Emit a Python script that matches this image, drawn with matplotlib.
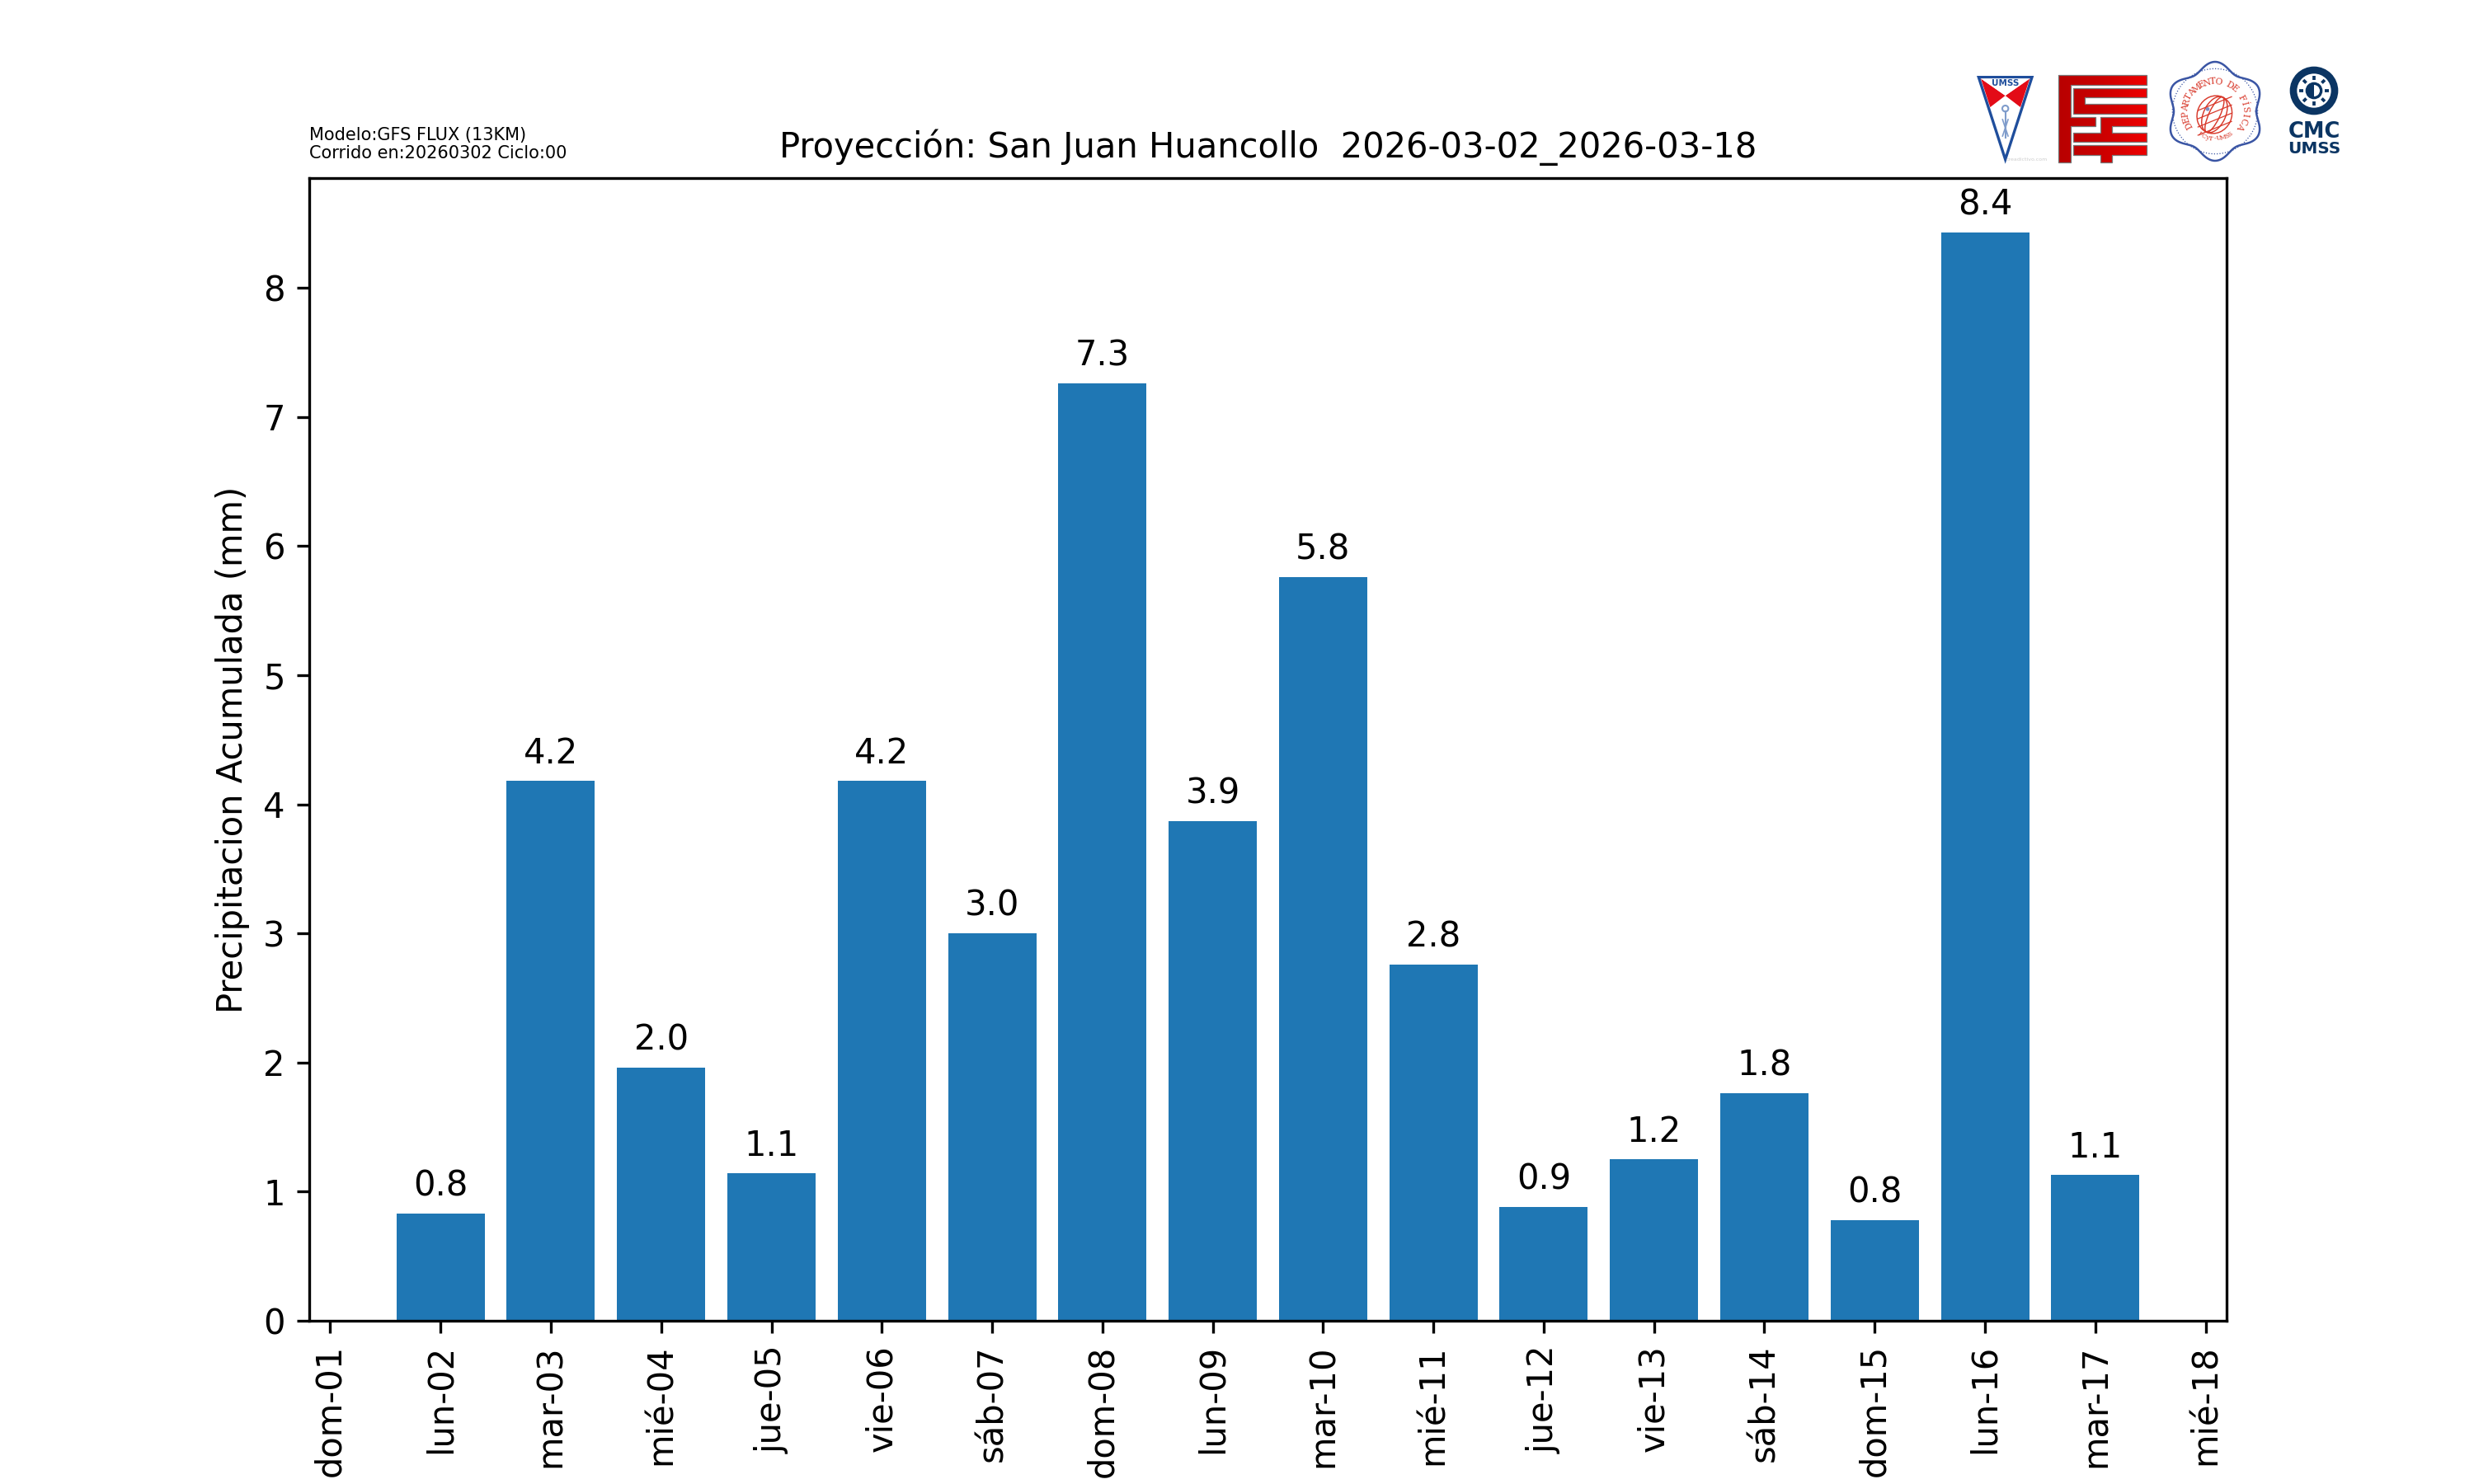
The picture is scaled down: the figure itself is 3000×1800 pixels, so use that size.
import numpy as np
import pandas as pd
import matplotlib
matplotlib.use("Agg")
import matplotlib.pyplot as plt
from matplotlib.patches import Polygon, Circle, Ellipse, PathPatch, Wedge
from matplotlib.path import Path

# datos de precipitacion
fechas = pd.date_range("2026-03-02", "2026-03-17", freq="D")
precip = [0.83, 4.18, 1.96, 1.14, 4.18, 3.00, 7.26, 3.87, 5.76, 2.76, 0.88, 1.25, 1.76, 0.78, 8.43, 1.13]
fechas_ticks = pd.date_range("2026-03-01", "2026-03-18", freq="D")
etiquetas = ["dom-01", "lun-02", "mar-03", "mié-04", "jue-05", "vie-06", "sáb-07", "dom-08", "lun-09",
             "mar-10", "mié-11", "jue-12", "vie-13", "sáb-14", "dom-15", "lun-16", "mar-17", "mié-18"]

titulo = "Proyección: San Juan Huancollo  2026-03-02_2026-03-18"
info = "Modelo:GFS FLUX (13KM)\nCorrido en:20260302 Ciclo:00"

fig, ax = plt.subplots(figsize=(10, 6))
barras = ax.bar(fechas, precip, color="#1f77b4")
ax.bar_label(barras, fmt="%.1f", padding=3)
ax.set_xticks(fechas_ticks)
ax.set_xticklabels(etiquetas, rotation=90)
ax.set_ylabel("Precipitacion Acumulada (mm)")
ax.set_title(titulo, fontsize=10)
ax.text(0, 1.0145, info, transform=ax.transAxes, fontsize=5, va="bottom", ha="left", linespacing=1.1)

# logos, unidades = 1/3 de pixel dentro de la franja superior derecha
logo = fig.add_axes([2350 / 3000, 1 - 230 / 1800, 550 / 3000, 180 / 1800])
logo.axis("off")
sx = 1.053

azul = "#1f4e9c"
rojo = "#e30b17"
# escudo UMSS
xu = 245
logo.add_patch(Polygon([(xu - 97, 131), (xu + 97, 131), (xu, 430)], fc="white", ec=azul, lw=0.8))
logo.add_patch(Polygon([(xu - 89, 136), (xu, 198), (xu - 55, 240)], fc=rojo, ec="none"))
logo.add_patch(Polygon([(xu + 89, 136), (xu, 198), (xu + 55, 240)], fc=rojo, ec="none"))
logo.add_patch(Polygon([(xu - 89, 136), (xu + 89, 136), (xu, 198)], fc="white", ec="none"))
logo.text(xu, 153, "UMSS", color=azul, fontsize=2.5, fontweight="bold", ha="center", va="center")
logo.add_patch(Circle((xu, 245), 11, fc="none", ec="#7f9ccb", lw=0.5))
logo.plot([xu, xu], [255, 350], color="#7f9ccb", lw=0.5)
logo.plot([xu - 10, xu + 10], [285, 345], color="#7f9ccb", lw=0.4)
logo.plot([xu + 10, xu - 10], [285, 345], color="#7f9ccb", lw=0.4)
logo.text(xu + 77, 430, "creadictivo.com", color="#cccccc", fontsize=1.5, ha="center", va="center")

# logo rojo con degradado
piezas = [
    [(417, 123), (722, 123), (722, 158), (458, 158), (458, 275), (545, 275), (545, 310), (458, 310), (458, 440), (417, 440)],
    [(468, 170), (722, 170), (722, 205), (508, 205), (508, 228), (722, 228), (722, 263), (468, 263)],
    [(560, 275), (722, 275), (722, 310), (600, 310), (600, 332), (722, 332), (722, 367), (468, 367), (468, 332), (560, 332)],
    [(468, 378), (722, 378), (722, 415), (600, 415), (600, 440), (560, 440), (560, 415), (468, 415)],
]
verts, codes = [], []
for p in piezas:
    p = [(x * sx, y) for x, y in p]
    verts += p + [p[0]]
    codes += [Path.MOVETO] + [Path.LINETO] * (len(p) - 1) + [Path.CLOSEPOLY]
trazo = Path(verts, codes)
grad = logo.imshow(np.linspace(0, 1, 64).reshape(1, -1), extent=(417 * sx, 722 * sx, 440, 123), aspect="auto",
                   cmap=matplotlib.colors.LinearSegmentedColormap.from_list("r", ["#b80000", "#cc0000", "#ee0000"]))
grad.set_clip_path(PathPatch(trazo, transform=logo.transData))
logo.add_patch(PathPatch(trazo, fc="none", ec="#777777", lw=0.3))

# sello departamento de fisica
cx, cy = 1008, 255
t = np.linspace(0, 2 * np.pi, 500)
r = 165 + 15 * np.cos(6 * (t + np.pi / 2))
logo.plot(cx + r * np.cos(t), cy + r * np.sin(t), color="#3a55a4", lw=0.6)
logo.add_patch(Circle((cx, cy), 155, fc="none", ec="#3a55a4", lw=0.3, ls=":"))
rojo2 = "#d8392b"
for w in (40, 80, 125):
    logo.add_patch(Ellipse((cx - 2, cy + 12), w, 140, angle=25, fc="none", ec=rojo2, lw=0.35))
for dy in (-40, -10, 20, 50):
    logo.plot([cx - 62, cx + 60], [cy + 12 + dy + 25, cy + 12 + dy - 25], color=rojo2, lw=0.3)
logo.add_patch(Circle((cx - 27, cy - 8), 7, fc="#7f8fc4", ec="none"))
letras = "DEPARTAMENTO DE FÍSICA"
for ch, a in zip(letras, np.linspace(-208, 30, len(letras))):
    a_r = np.deg2rad(a)
    logo.text(cx + 108 * np.cos(a_r), cy + 108 * np.sin(a_r), ch, color=rojo2, fontsize=2.6, family="DejaVu Serif",
              rotation=-a - 90, ha="center", va="center")
for ch, a in zip("FCyT-UMSS", np.linspace(124, 56, 9)):
    a_r = np.deg2rad(a)
    logo.text(cx + 100 * np.cos(a_r), cy + 100 * np.sin(a_r), ch, color=rojo2, fontsize=1.8, family="DejaVu Serif",
              rotation=90 - a, ha="center", va="center")

# logo CMC
navy = "#0b3563"
xc = 1368
logo.add_patch(Circle((xc, 180), 88, fc=navy, ec="none"))
logo.add_patch(Circle((xc, 180), 62, fc="white", ec="none"))
for a in np.arange(0, 360, 45):
    a_r = np.deg2rad(a)
    logo.plot([xc + 40 * np.cos(a_r), xc + 55 * np.cos(a_r)], [180 + 40 * np.sin(a_r), 180 + 55 * np.sin(a_r)],
              color=navy, lw=0.9, solid_capstyle="butt")
logo.add_patch(Circle((xc, 180), 26, fc="white", ec=navy, lw=0.8))
logo.add_patch(Wedge((xc, 180), 26, 90, 270, fc=navy, ec="none"))
logo.text(xc, 320, "CMC", color=navy, fontsize=6.2, fontweight="bold", ha="center", va="center_baseline")
logo.text(xc, 385, "UMSS", color=navy, fontsize=4.8, fontweight="bold", ha="center", va="center_baseline")

logo.set_xlim(0, 1650)
logo.set_ylim(540, 0)

fig.savefig("out.png", dpi=300)
